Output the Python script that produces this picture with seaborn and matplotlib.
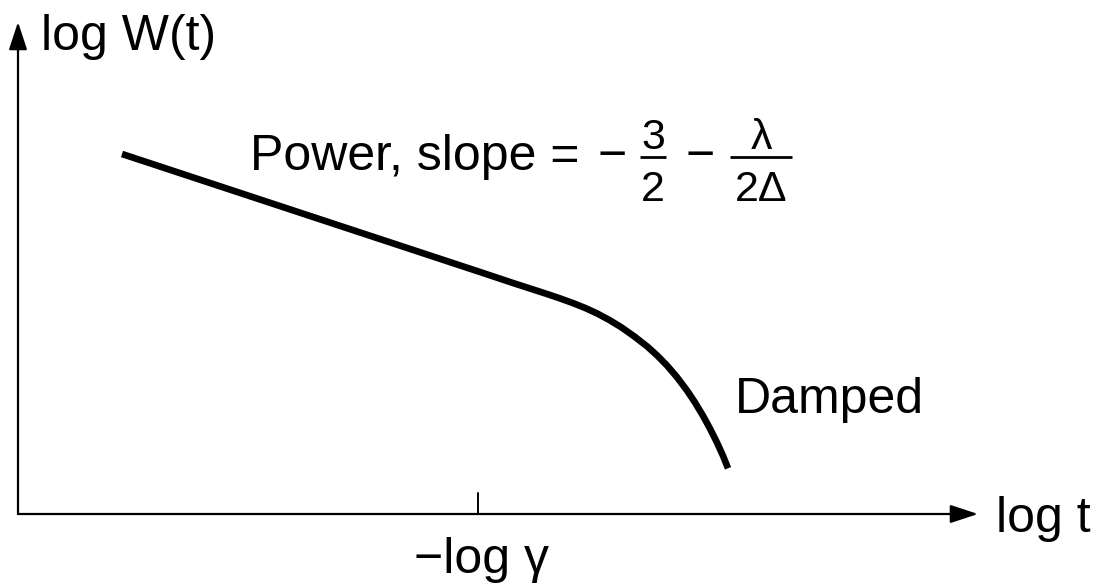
import matplotlib
matplotlib.use("Agg")
import matplotlib.pyplot as plt
import seaborn as sns
import pandas as pd

# ---- data (schematic; abstract log units) ----
log_t = [1.04, 4.62, 4.95, 5.29, 5.42, 5.55, 5.67, 5.79, 5.91, 6.03, 6.16,
         6.29, 6.39, 6.49, 6.59, 6.69, 6.77, 6.85, 6.92, 6.99, 7.05, 7.10]
log_W = [3.60, 2.42, 2.31, 2.20, 2.156, 2.109, 2.061, 2.006, 1.942, 1.869, 1.778,
         1.677, 1.587, 1.485, 1.368, 1.235, 1.115, 0.982, 0.854, 0.714, 0.582, 0.457]
tick_pos = [4.60]
x_label = "log t"
y_label = "log W(t)"
tick_label = "\u2212log \u03b3"
power_text = "Power, slope ="
damped_text = "Damped"

sns.set_theme(style="white")
plt.rcParams['font.family'] = ['Liberation Sans', 'DejaVu Sans']
plt.rcParams['text.color'] = 'black'

df = pd.DataFrame({"log_t": log_t, "log_W": log_W})

fig = plt.figure(figsize=(10.99, 5.88), dpi=100)
ax = fig.add_axes([0, 0, 1, 1])
sns.lineplot(data=df, x="log_t", y="log_W", sort=False, color="black",
             lw=4.8, ax=ax, solid_capstyle="butt", solid_joinstyle="round")
ax.set_xlim(-0.18, 10.81)
ax.set_ylim(-0.74, 5.14)
ax.axis("off")

# axes with arrows
arrow_kw = dict(arrowstyle="-|>,head_length=0.85,head_width=0.28", lw=1.6,
                color="black", shrinkA=0, shrinkB=0, mutation_scale=20)
ax.annotate("", xy=(9.60, 0), xytext=(0, 0), arrowprops=arrow_kw)
ax.annotate("", xy=(0, 4.92), xytext=(0, 0), arrowprops=arrow_kw)

# tick
for tp in tick_pos:
    ax.plot([tp, tp], [0, 0.21], color="black", lw=1.4)

fs = 36
tc = "black"
ax.text(0.23, 4.64, y_label, fontsize=fs, ha="left", va="baseline", color=tc)
ax.text(9.78, -0.18, x_label, fontsize=fs, ha="left", va="baseline", color=tc)
ax.text(tick_pos[0] + 0.03, -0.59, tick_label, fontsize=fs, ha="center",
        va="baseline", color=tc)
ax.text(7.17, 1.01, damped_text, fontsize=fs, ha="left", va="baseline", color=tc)

# slope annotation
ax.text(2.32, 3.44, power_text, fontsize=fs, ha="left", va="baseline", color=tc)
ax.text(5.94, 3.44, "\u2212", fontsize=fs, ha="center", va="baseline", color=tc)
ax.text(6.82, 3.44, "\u2212", fontsize=fs, ha="center", va="baseline", color=tc)
fs2 = 31
ax.text(6.35, 3.65, "3", fontsize=fs2, ha="center", va="baseline", color=tc)
ax.text(6.35, 3.13, "2", fontsize=fs2, ha="center", va="baseline", color=tc)
ax.plot([6.22, 6.48], [3.57, 3.57], color="black", lw=2.0, solid_capstyle="butt")
ax.text(7.43, 3.65, "\u03bb", fontsize=fs2, ha="center", va="baseline", color=tc)
ax.text(7.43, 3.13, "2\u0394", fontsize=fs2, ha="center", va="baseline", color=tc)
ax.plot([7.12, 7.74], [3.57, 3.57], color="black", lw=2.0, solid_capstyle="butt")

fig.savefig("out.png", dpi=100)
